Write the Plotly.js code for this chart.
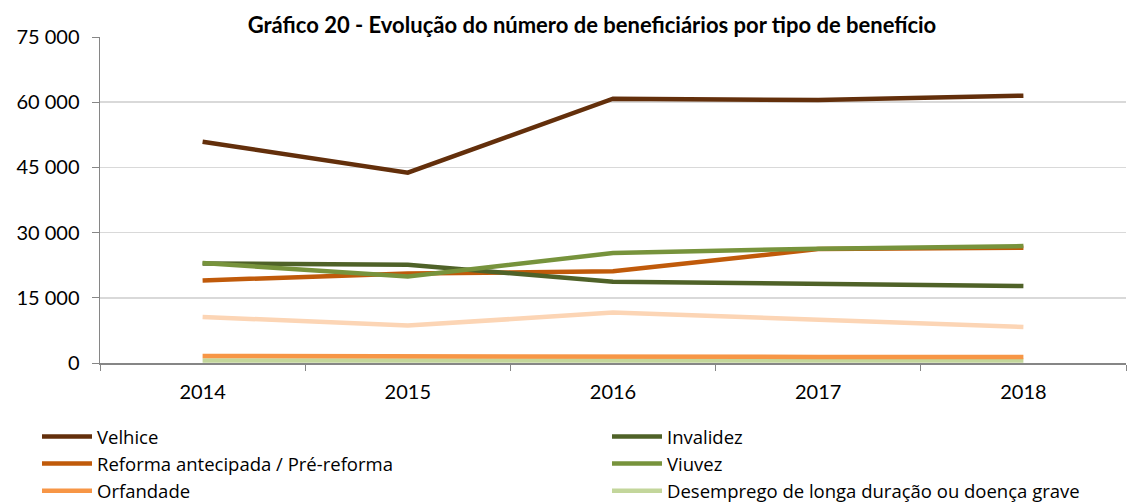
<!DOCTYPE html>
<html>
<head>
<meta charset="utf-8">
<script src="https://cdn.plot.ly/plotly-3.0.1.min.js"></script>
<style>html,body{margin:0;padding:0;background:#fff;}#chart{width:1142px;height:502px;}</style>
</head>
<body>
<div id="chart"></div>
<script>
var years = ["2014", "2015", "2016", "2017", "2018"];
var velhice = [50900, 43800, 60800, 60500, 61500];
var invalidez = [22900, 22600, 18700, 18200, 17700];
var reforma = [19000, 20600, 21100, 26200, 26500];
var viuvez = [23000, 19900, 25300, 26300, 26900];
var orfandade = [1600, 1450, 1500, 1400, 1400];
var desemprego = [600, 600, 600, 600, 600];
var outro = [10600, 8600, 11600, 10000, 8300];

var seriesNames = ["Velhice", "Invalidez", "Reforma antecipada / Pré-reforma", "Viuvez", "Orfandade", "Desemprego de longa duração ou doença grave"];
var colors = ["#632F0B", "#4F6228", "#C05A0A", "#77933C", "#F79646", "#C3D69B", "#FCD5B5"];

function tr(y, name, color, show, leg, rank) {
  return {x: years, y: y, name: name, type: "scatter", mode: "lines",
    line: {color: color, width: 4.5}, showlegend: show, legend: leg, legendrank: rank};
}
var data = [
  tr(desemprego, seriesNames[5], colors[5], true, "legend2", 3),
  tr(orfandade, seriesNames[4], colors[4], true, "legend", 3),
  tr(outro, "Outros", colors[6], false, "legend", 9),
  tr(reforma, seriesNames[2], colors[2], true, "legend", 2),
  tr(invalidez, seriesNames[1], colors[1], true, "legend2", 1),
  tr(viuvez, seriesNames[3], colors[3], true, "legend2", 2),
  tr(velhice, seriesNames[0], colors[0], true, "legend", 1)
];

var font = "Lato, 'Open Sans', sans-serif";
var legFont = "'Open Sans', Lato, sans-serif";
var legBase = {orientation: "v", xref: "container", yref: "container", yanchor: "top", xanchor: "left",
  traceorder: "normal", font: {size: 18.5, family: legFont}, tracegroupgap: 0, bgcolor: "rgba(0,0,0,0)",
  itemwidth: 50};
var leg1 = Object.assign({}, legBase, {x: 37/1142, y: 1 - 418/502});
var leg2 = Object.assign({}, legBase, {x: 607/1142, y: 1 - 418/502});

var layout = {
  width: 1142, height: 502,
  margin: {l: 100, r: 16, t: 37, b: 139, autoexpand: false},
  paper_bgcolor: "#fff", plot_bgcolor: "#fff",
  font: {family: font, size: 20, color: "#000"},
  separators: ", ",
  title: {text: "<b>Gráfico 20 - Evolução do número de beneficiários por tipo de benefício</b>",
    font: {family: font, size: 22, color: "#000"},
    x: 592/1142, xref: "container", xanchor: "center", y: 1 - 25/502, yref: "container", yanchor: "middle"},
  xaxis: {type: "category", range: [-0.5, 4.5], tickson: "boundaries", ticks: "outside", ticklen: 6,
    tickcolor: "#868686", showline: true, linecolor: "#868686", linewidth: 1.5, showgrid: false,
    zeroline: false, ticklabelstandoff: 10, tickfont: {size: 20}, fixedrange: true, tickangle: 0, automargin: false},
  yaxis: {range: [0, 75000], tickvals: [0, 15000, 30000, 45000, 60000, 75000], tickformat: ",d",
    ticks: "outside", ticklen: 7, tickcolor: "#868686", showline: true, linecolor: "#868686", linewidth: 1.5,
    showgrid: true, gridcolor: "#D9D9D9", gridwidth: 1.5, zeroline: false, ticklabelstandoff: 8,
    tickfont: {size: 20}, fixedrange: true, automargin: false},
  showlegend: true,
  legend: leg1,
  legend2: leg2
};
Plotly.newPlot("chart", data, layout, {displayModeBar: false, staticPlot: true});
</script>
</body>
</html>
